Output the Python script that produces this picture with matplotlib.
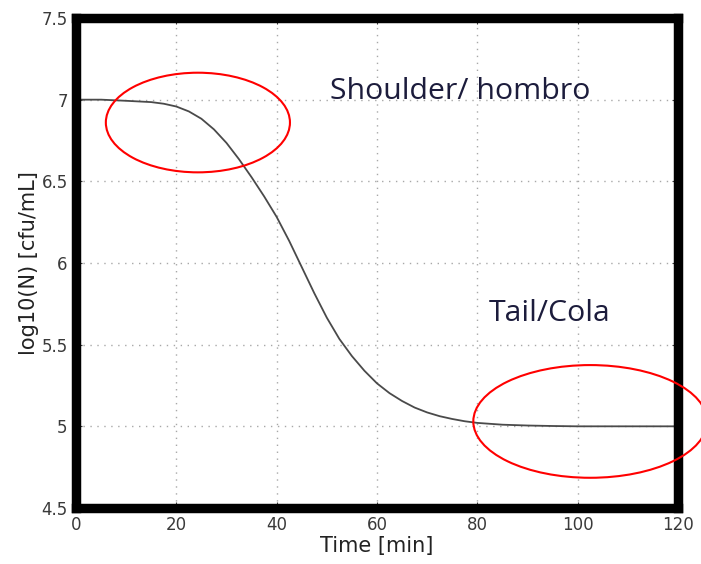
import matplotlib.pyplot as plt
from matplotlib.patches import Ellipse

# Curva di inattivazione: log10(N) in funzione del tempo
time_min = [0, 5, 10, 15, 17.5, 20, 22.5, 25, 27.5, 30, 32.5, 35, 37.5, 40, 42.5, 45,
            47.5, 50, 52.5, 55, 57.5, 60, 62.5, 65, 67.5, 70, 72.5, 75, 77.5, 80,
            85, 90, 95, 100, 110, 120]
log_n = [7.00, 7.00, 6.993, 6.985, 6.975, 6.958, 6.928, 6.883, 6.818, 6.735, 6.635, 6.525,
         6.408, 6.282, 6.135, 5.975, 5.815, 5.665, 5.535, 5.43, 5.34, 5.263, 5.203, 5.155,
         5.115, 5.085, 5.062, 5.045, 5.031, 5.021, 5.01, 5.005, 5.002, 5.0, 5.0, 5.0]

x_ticks = [0, 20, 40, 60, 80, 100, 120]
y_ticks = [4.5, 5, 5.5, 6, 6.5, 7, 7.5]
y_tick_labels = ['4.5', '5', '5.5', '6', '6.5', '7', '7.5']

# ellissi rosse (centro x, centro y, larghezza, altezza)
shoulder_ellipse = (24.3, 6.86, 36.7, 0.61)
tail_ellipse = (102.5, 5.03, 46.6, 0.69)

fig = plt.figure(figsize=(7.01, 5.64), dpi=100)
ax = fig.add_axes([0.1084, 0.0993, 0.8588, 0.8688])

ax.plot(time_min, log_n, color='#4a4a4a', linewidth=1.3)

ax.set_xlim(0, 120)
ax.set_ylim(4.5, 7.5)
ax.set_xticks(x_ticks)
ax.set_yticks(y_ticks)
ax.set_yticklabels(y_tick_labels)
ax.grid(True, linestyle=(0, (1, 4)), color='#a8a8a8', linewidth=1.0)
ax.tick_params(direction='in', top=True, right=True, length=4, colors='#3a3a3a',
               labelsize=12, pad=6)

for s in ax.spines.values():
    s.set_linewidth(6.8)
    s.set_color('black')

ax.set_xlabel('Time [min]', fontsize=15, color='#222222', labelpad=1)
ax.set_ylabel('log10(N) [cfu/mL]', fontsize=15, color='#222222', labelpad=2)

for cx, cy, w, h in [shoulder_ellipse, tail_ellipse]:
    ax.add_patch(Ellipse((cx, cy), w, h, fill=False, edgecolor='red',
                         linewidth=1.5, clip_on=False, zorder=5))

ax.text(50.7, 7.05, 'Shoulder/ hombro', fontsize=21.8, family='Open Sans',
        color='#1c1c3c', va='center', ha='left')
ax.text(82.2, 5.69, 'Tail/Cola', fontsize=21.8, family='Open Sans',
        color='#1c1c3c', va='center', ha='left')

plt.savefig('out.png', dpi=100)
